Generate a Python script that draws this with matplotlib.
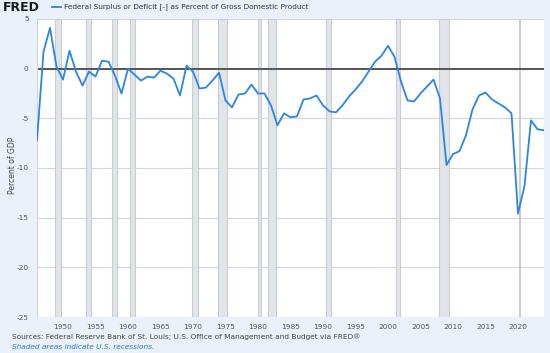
import numpy as np
import matplotlib.pyplot as plt

# Dados anuais (ano, superavit/deficit em % do PIB)
anos = list(range(1946, 2025))
deficit = [-7.2, 1.7, 4.1, 0.2, -1.1, 1.8, -0.3, -1.7, -0.3, -0.8,
           0.8, 0.7, -0.7, -2.5, 0.0, -0.6, -1.2, -0.8, -0.9, -0.2,
           -0.5, -1.0, -2.7, 0.3, -0.3, -2.0, -1.9, -1.2, -0.4, -3.2,
           -3.9, -2.6, -2.5, -1.6, -2.5, -2.5, -3.7, -5.7, -4.5, -4.9,
           -4.8, -3.1, -3.0, -2.7, -3.7, -4.3, -4.4, -3.7, -2.8, -2.1,
           -1.3, -0.3, 0.7, 1.3, 2.3, 1.2, -1.3, -3.2, -3.3, -2.5,
           -1.8, -1.1, -3.0, -9.7, -8.6, -8.3, -6.7, -4.1, -2.7, -2.4,
           -3.1, -3.5, -3.9, -4.5, -14.6, -11.8, -5.2, -6.1, -6.2]

# Recessoes (inicio, fim) em (ano, mes)
recessoes_inicio = [(1948, 11), (1953, 7), (1957, 8), (1960, 4), (1969, 12), (1973, 11),
                    (1980, 1), (1981, 7), (1990, 7), (2001, 3), (2007, 12), (2020, 2)]
recessoes_fim = [(1949, 10), (1954, 5), (1958, 4), (1961, 2), (1970, 11), (1975, 3),
                 (1980, 7), (1982, 11), (1991, 3), (2001, 11), (2009, 6), (2020, 4)]

yticks = [5, 0, -5, -10, -15, -20, -25]
xticks = list(range(1950, 2021, 5))

def ano_decimal(am):
    return am[0] + (am[1] - 1) / 12.0

fundo = '#eaf1fb'
fig = plt.figure(figsize=(5.5, 3.53), dpi=100)
fig.patch.set_facecolor(fundo)

ax = fig.add_axes([37/550, 1 - 317/353, (544 - 37)/550, (317 - 19)/353])
ax.set_facecolor('white')

# Areas de recessao
for ini, fim in zip(recessoes_inicio, recessoes_fim):
    ax.axvspan(ano_decimal(ini), ano_decimal(fim), facecolor='#e1e5ea',
               edgecolor='#c9cdd2', linewidth=0.8, zorder=1)

# Grade horizontal
for y in yticks:
    ax.axhline(y, color='#d6d6d6', linewidth=0.8, zorder=0.5)
ax.axhline(0, color='#4a4a4a', linewidth=1.3, zorder=2)

ax.plot(anos, deficit, color='#2a86e3', linewidth=1.3, zorder=3)

ax.set_xlim(1946, 2024)
ax.set_ylim(-25, 5)
ax.set_yticks(yticks)
ax.set_yticklabels([str(y) for y in yticks])
ax.set_xticks(xticks)
ax.tick_params(axis='both', length=0, labelsize=5.3, labelcolor='#555555')
ax.tick_params(axis='y', pad=6)
ax.tick_params(axis='x', pad=5)
for s in ['top', 'right', 'bottom']:
    ax.spines[s].set_visible(False)
ax.spines['left'].set_color('#d6d6d6')
ax.spines['left'].set_linewidth(0.8)

fig.text(8/550, 1 - 165/353, 'Percent of GDP', rotation=90, fontsize=5.5,
         color='#444444', ha='left', va='center')

# Cabecalho
fig.text(3/550, 1 - 7.5/353, 'FRED', fontsize=9, fontweight='bold',
         color='#1a1a1a', ha='left', va='center')
fig.lines.append(plt.Line2D([52/550, 61/550], [1 - 7/353, 1 - 7/353],
                            transform=fig.transFigure, color='#2a86e3', linewidth=1.3))
fig.text(64/550, 1 - 7/353,
         'Federal Surplus or Deficit [-] as Percent of Gross Domestic Product',
         fontsize=5.3, color='#333333', ha='left', va='center')

# Rodape
fig.text(12/550, 1 - 337/353,
         'Sources: Federal Reserve Bank of St. Louis; U.S. Office of Management and Budget via FRED\u00ae',
         fontsize=5.3, color='#444444', ha='left', va='center')
fig.text(12/550, 1 - 347/353, 'Shaded areas indicate U.S. recessions.',
         fontsize=5.3, color='#2a7ad8', style='italic', ha='left', va='center')

fig.savefig('out.png', dpi=100, facecolor=fundo)
